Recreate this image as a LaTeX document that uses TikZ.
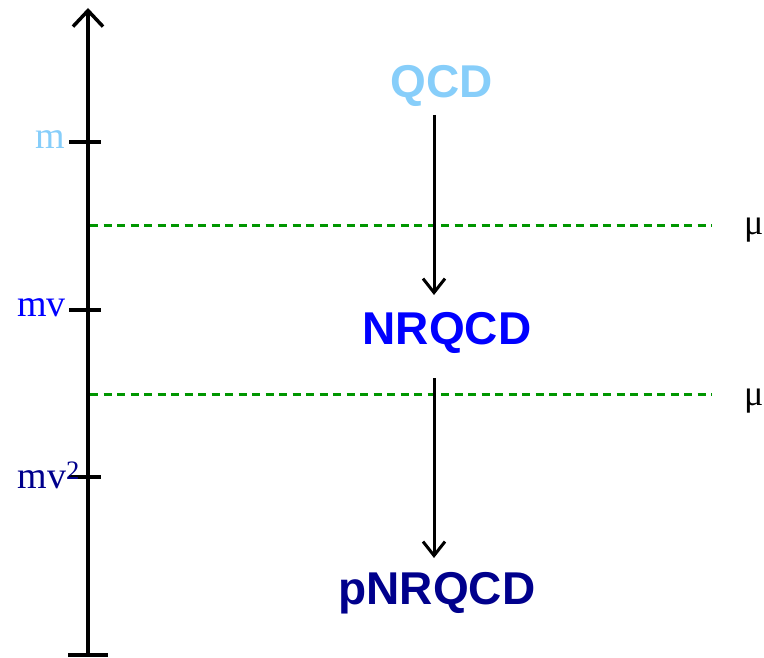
\documentclass[tikz,border=0pt]{standalone}
\usepackage{fontspec}
\setmainfont{Liberation Serif}
\setsansfont{Liberation Sans}
\usetikzlibrary{arrows.meta}
\definecolor{lsb}{RGB}{135,206,250}
\definecolor{dblue}{RGB}{0,0,140}
\definecolor{dgreen}{RGB}{0,150,0}
\begin{document}
\begin{tikzpicture}[x=1pt,y=-1pt,
  axis/.style={line width=4pt},
  tick/.style={line width=3.5pt},
  scale lab/.style={anchor=east,font=\fontsize{38}{38}\selectfont,inner sep=0pt},
  theory/.style={font=\sffamily\bfseries\fontsize{46}{46}\selectfont,inner sep=2pt},
  sep/.style={dgreen,line width=3pt,dash pattern=on 8pt off 5.5pt},
  flow/.style={line width=3pt,-{Straight Barb[length=14pt,width=22pt,line width=3pt]}},
  mulab/.style={anchor=west,font=\fontsize{36}{36}\selectfont,inner sep=0pt}]
\useasboundingbox (0,0) rectangle (764,658);
\coordinate (top) at (88,8);
\coordinate (bot) at (88,655);
\draw[axis,-{Straight Barb[length=16pt,width=30pt,line width=3.5pt]}] (bot) -- (top);
\draw[tick] (68,655) -- (108,655);
\draw[tick] (69,142) -- (101,142);
\draw[tick] (69,310) -- (101,310);
\draw[tick] (69,477) -- (101,477);
\node[scale lab,lsb] (m) at (65,140) {m};
\node[scale lab,blue] (mv) at (66,308) {mv};
\node[scale lab,dblue] (mv2) at (80,475) {mv\textsuperscript{2}};
\coordinate (s1a) at (90,226);
\coordinate (s1b) at (712,226);
\coordinate (s2a) at (90,394);
\coordinate (s2b) at (712,394);
\draw[sep] (s1a) -- (s1b);
\draw[sep] (s2a) -- (s2b);
\node[mulab] (mu1) at (744,230) {μ};
\node[mulab] (mu2) at (744,398) {μ\textquotesingle};
\node[theory,lsb] (qcd) at (442,86) {QCD};
\node[theory,blue] (nrqcd) at (447,333) {NRQCD};
\node[theory,dblue] (pnrqcd) at (437,593) {pNRQCD};
\draw[flow] (434,115) -- (434,295);
\draw[flow] (434,378) -- (434,558);
\end{tikzpicture}
\end{document}
